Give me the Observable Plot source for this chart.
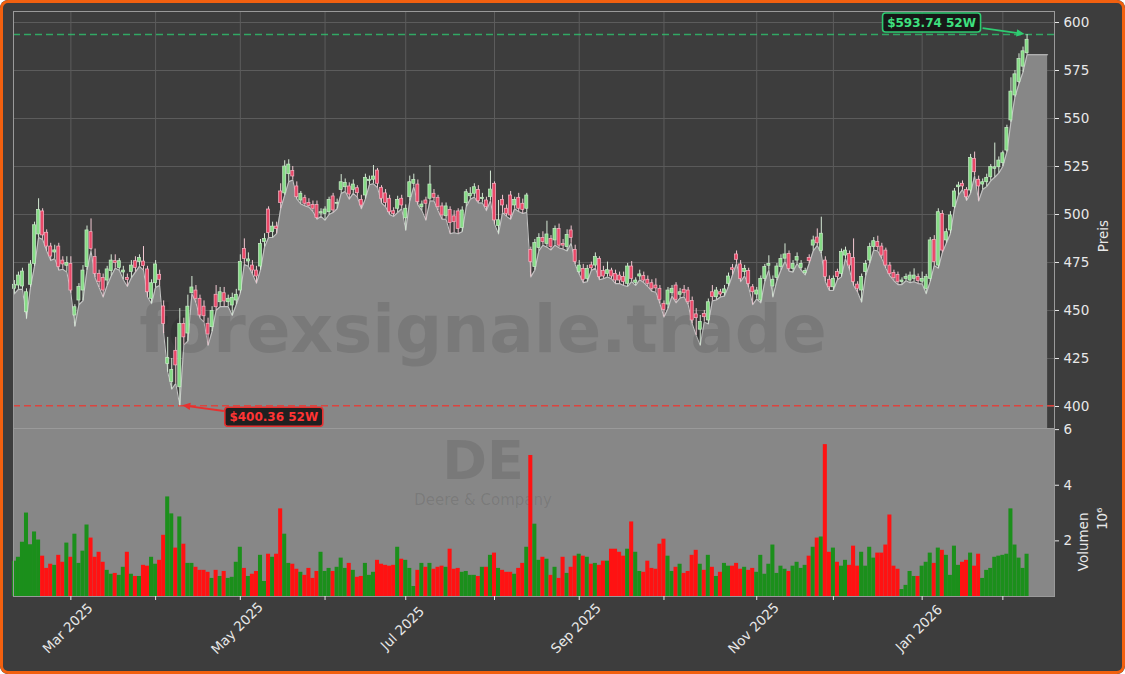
<!DOCTYPE html>
<html><head><meta charset="utf-8">
<script src="https://cdn.jsdelivr.net/npm/d3@7"></script>
<script src="https://cdn.jsdelivr.net/npm/@observablehq/plot@0.6"></script>
<style>
html,body{margin:0;padding:0;background:#ffffff;}
#wrap{position:relative;width:1125px;height:674px;background:#3d3d3d;overflow:hidden;border-radius:8px;font-family:"DejaVu Sans",sans-serif;}
#wrap svg{position:absolute;left:0;}
#border{position:absolute;left:0;top:0;width:1125px;height:674px;box-sizing:border-box;border:3px solid #f2600f;border-radius:8px;pointer-events:none;z-index:5;}
</style></head>
<body><div id="wrap"><div id="border"></div></div>
<script>
// ---------- DATA ----------
const startDate = "2025-02-10";
const endDate = "2026-02-10";
const holidays = ["2025-02-17","2025-04-18","2025-05-26","2025-06-19","2025-07-04","2025-09-01","2025-11-27","2025-12-25","2026-01-01","2026-01-19"];

const open = [461.3,463,462.5,449.1,463.4,474.3,489.6,501.6,490.5,483.3,480.2,483.3,476,473.3,474.3,447.4,455.2,460.4,472.6,490.8,
477.8,469.1,467,465.6,470.5,475.7,472.2,469.8,467,470,475.7,475.2,475.5,471.4,456.1,464.2,468.6,452.1,422.2,412.7,
429,410,443,438,459,460.4,456.1,452,443.1,441.3,458.2,454.3,459,454.3,452.6,455.2,460.4,482.1,475.5,473.4,
470.8,472.9,485.6,502.6,490.8,493.7,512,511,521,522.6,514.6,507.3,508.5,506,505,505,500.5,500.3,501.2,509.4,
505.6,512.8,514.2,514.6,512.8,513.7,507.6,509.9,517.4,518.1,522.9,513.9,511,508.2,501.7,503,508.2,498,509,516,
515.6,503.8,507.3,508.2,510.8,508.7,504.2,499.1,502.4,499,501.6,493,505.9,509.5,510.8,512.8,508,507.3,509,516,
494,507.6,503,509.9,504.7,508.7,505.6,503,481.6,472.6,482.6,487.8,484.7,487.3,486.5,492.5,484.7,483,491.7,481.6,
470,471.7,466.5,473.5,473.4,476.9,470.5,469,470.8,469.1,468.2,467.5,463.9,472.9,464.4,467.7,467.9,466,464.2,463,
461.3,453.5,453.1,459,463,458.2,460.8,460.4,454.9,448,440,448.2,444.8,459.5,456.9,459.5,459,463.9,472,479.2,
474,470,470.5,462.1,458.3,455.2,466.5,473.3,462.5,467,472.6,477,479.5,471.7,476,472.2,469.4,477.4,483.8,488,
481,476,466,462.1,470,469.1,478.6,479.5,477.4,463.5,460.4,470,476,483,485.6,483.3,481.2,473.4,469.6,468.5,
464.8,466.5,465.6,466.5,467.4,465,461.3,466.5,486.8,473.4,500.3,486.5,491.7,504,514.2,516,512.8,512.5,529,518.1,
515.6,516.8,519.4,523.8,524.6,526.7,533.3,549,562,569,577,584];
const high = [465.6,470,472,461.3,476,496,508.2,503,492,485,484,485,478,478,478,453,464,473.4,494,497.7,
482,471,469,473,479,479,477,473,469,476,478,479,483.3,473,466,476,471,455,436,425,
436,451,446,458,467.7,463,458,455,446,452,463,462,462,458,459,461,479,487.3,480,476,
473,487,490,504,496,496,516,528,528.5,525,517,512,510,508.2,507,507,503,504,509,511,
508,520.8,518.5,516.5,518,515,510,521,520,525.5,524,515,513,510,503.5,509.5,510,505,520,521,
518,507,509,525.5,513,510,506,506,504,502,503,504,513,514,516,515,511,509,522.6,517,
507.3,510,505,512,509,511,508,511,483,487,490,491,496.5,489,494,495,487,492,494,484,
476,474,473.5,475.2,480,478,473,475.2,472,471,470,470,474.5,475.5,467,471,470,468,466,466.5,
463,455,462,463,464.5,461.5,463,462,457,451,447.4,450,456,463,462,461,463,469.5,474,481,
476,473.5,472,463.5,462,468,474,478.5,468,474.5,479,484.7,481,476,480,476,472,479,488.7,492.5,
498.6,478,468,468,471.5,482,483,481,487.3,465,469,476,485,488,488.7,485,482.5,475,471,470,
467,469,470,471.7,469,470,468.8,488,489,503,502,492.5,501.5,513.5,516.8,517.5,514,531.3,532.5,520,
518.5,521,526,537.2,530,533,546.5,571.2,575,583.7,587.2,593.74];
const low = [458.7,461,461,445.7,462,473,488,487,481,476,477,471,471.5,470,459,441.7,453,455,471,481,
467,462,457,463,468,472,471,466,462.5,467,470,473,471,457,453.5,462,463,438,417.9,409,
412,400.36,432,434,458.7,454,446,444,431.8,439,450,452,452,452,447.4,453,459,474,473,469,
464.2,471,483,488,488,490,503,510,517,518,508,505.5,504.5,503.8,501.5,497.5,499,497,500,501,
503,511,512,508,511,509,503,508,515.5,516,514,506,504,500,499,501,503,491.7,507,514.5,
505,502,497,507,507,502,497.5,497.5,490,490.5,490,491,504,508,509,506,506,502,507,495,
489.9,501,499,497.5,503,501.5,500.5,501,467.5,471,481,484,483,481.5,484,482.6,482,481,485,474,
469,464.5,465,470.8,472,466,466.5,467.4,466.5,464,464,463,462.5,465,463,466,464.5,462.5,460,459.5,
453.5,446.5,451,457.5,454,456.5,457,453,443,437,431.8,444,443,455,455.5,457,457.5,462.5,468.5,474.5,
465,468,462,453,456,454,465,471,457,465.5,471,475.5,470.5,470,474.5,471,468.5,474.5,481,483.8,
479.5,465,460.4,460.5,466,467.5,477,471,463,459.5,454.3,468,474.5,481.5,481,477,472,468,465.5,463.5,
463.5,465.5,464.5,465,464,463.8,458.7,465,473.4,472,480,485,490,503,510,513,507.3,511,520,507,
513,514.5,517.5,519.4,521.5,525,532.5,548,561.1,568.1,574.1,583.2];
const close = [463.4,468.2,470.3,459.5,474,494.4,502.4,489.1,483.3,478.1,481.3,472.6,474,474.7,460.4,451.7,462.2,470.8,491.7,482.1,
469.1,464.8,460.4,471.4,476,474.7,475.7,470.8,465.9,473.4,472.2,477.3,473.1,459.5,464.2,474,466,443,425.2,419.1,
421.4,443,436,452,462,456.1,447.4,447,437.5,449.7,451.7,459.5,454.7,456.1,456.6,458.2,475.2,476.9,476.6,470.8,
467.7,484.7,487.3,490.3,493.7,492.4,506,525,526,519.8,509,510.8,505.6,504.5,503,498.1,501.2,502.6,507.6,502.1,
506,516.8,516.5,510.4,515.6,511.1,504.7,519.1,518.1,519.8,516,508.2,506,501.2,500.3,507.6,504.7,503,516.8,518,
506.4,505.2,505.6,515.6,508.7,503.8,499.5,504.2,495.5,496,492.5,502.1,511.6,510.8,514.2,506.9,508.7,503.8,513,496.9,
497,504.7,500.3,499.5,507.6,503,502.4,509.9,475.2,485.1,487.8,485.6,489.6,483,492.5,483.8,483.8,489.4,487.8,475.2,
473.4,466,471.7,472,477.8,467.4,467.7,471,467.7,465.6,465.6,464.8,472.9,466.5,465.6,468.8,465.6,463.9,461.3,461.5,
455.6,450.3,460.4,461.3,455.6,459.5,459,454.3,444.8,446,444,446.5,454.3,457,460.4,458.3,461,467.7,471.2,476.4,
466.5,471.7,463.9,459.5,460.4,466.5,472.6,474.3,466,472.9,476.9,479.2,471.7,474.3,477.8,474.3,470.5,475.7,486.5,485,
490,467.4,462.1,466.5,467.4,480.4,481.2,473.4,464.8,461.3,467.4,474.3,483,486.1,483,478.6,473.4,469.1,466.8,464.8,
465.6,467.4,468.2,468.2,465.3,466.5,467.4,486.5,475.2,501.2,481.2,490.8,499.5,512,515.1,514.6,509,529.5,522,514.6,
516.8,519.1,524.7,524.6,528.1,531.9,545.1,564,573,581,585,591];
// volume in millions
const volume = [1.27,1.41,1.95,3.0,1.86,2.32,2.03,1.45,1.01,1.16,1.12,1.48,1.23,1.92,1.41,2.24,1.19,1.63,2.57,2.1,
1.41,1.59,1.23,0.94,0.8,0.83,0.76,1.05,1.59,0.8,0.72,0.72,1.12,1.09,1.41,1.16,1.30,2.2,3.58,2.97,
1.74,2.86,1.88,1.19,1.19,1.05,0.94,0.94,0.87,0.65,0.94,0.72,0.9,0.65,0.69,1.23,1.77,1.01,0.72,0.8,
0.9,1.48,0.54,1.52,1.41,1.52,3.15,2.24,1.19,1.16,0.98,0.87,0.76,1.01,0.65,0.9,1.59,0.9,1.01,0.9,
1.05,1.38,1.01,1.19,0.94,0.69,0.72,1.19,0.76,0.87,1.30,1.16,1.12,1.09,1.12,1.77,1.34,1.30,1.01,0.36,
0.94,1.19,1.05,1.19,0.98,1.05,1.09,1.05,1.70,0.98,1.01,0.87,0.9,0.76,0.76,0.72,1.05,1.05,1.48,1.56,
1.01,0.94,0.87,0.87,0.8,1.01,1.19,1.77,5.07,2.6,1.3,1.41,1.34,0.76,1.05,0.65,1.41,0.83,1.05,1.45,
1.52,1.45,1.41,1.16,1.19,1.12,1.27,1.27,1.70,1.70,1.59,1.45,1.70,2.68,1.59,0.9,0.87,1.27,1.01,0.98,
1.88,2.06,1.45,0.9,1.05,1.16,0.83,0.9,1.48,1.66,1.16,0.94,1.48,1.05,0.72,0.87,1.19,1.09,1.09,1.19,
0.98,1.05,0.94,1.01,0.87,1.48,0.8,1.16,1.85,0.83,1.09,0.98,0.9,1.09,1.23,1.01,1.12,1.45,1.77,2.1,
2.14,5.46,1.59,1.74,1.23,1.09,1.30,1.12,1.81,1.09,1.59,1.09,1.77,1.38,1.56,1.56,1.85,2.93,1.09,0.98,
0.25,0.4,0.9,0.72,0.72,1.09,1.23,1.56,1.19,1.74,1.66,1.48,0.76,1.81,1.12,1.23,1.30,1.56,1.09,1.52,
0.65,0.94,1.01,1.41,1.45,1.48,1.52,3.15,1.85,1.38,1.01,1.52];
const priceTicks = [400,425,450,475,500,525,550,575,600];
const volumeTicks = [2,4,6];
const watermark = "forexsignale.trade";
const symbol = "DE";
const companyName = "Deere & Company";
const areaExtendIndex = 256.1;

// ---------- BUILD ----------
const dates = [];
for (let t = new Date(startDate + "T00:00:00Z"); t <= new Date(endDate + "T00:00:00Z"); t = new Date(t.getTime() + 864e5)) {
  const wd = t.getUTCDay(), s = t.toISOString().slice(0, 10);
  if (wd === 0 || wd === 6 || holidays.includes(s)) continue;
  dates.push(new Date(t));
}
const n = Math.min(dates.length, open.length, volume.length);
const rows = d3.range(n).map(i => ({i, date: dates[i], open: open[i], high: high[i], low: low[i], close: close[i], volume: volume[i], up: close[i] >= open[i]}));
const areaRows = rows.map(d => ({i: d.i, low: d.low})).concat([{i: areaExtendIndex, low: rows[n - 1].low}]);
const monthTicks = [];
rows.forEach((d, i) => { if (i > 0 && d.date.getUTCMonth() !== rows[i - 1].date.getUTCMonth()) monthTicks.push({i, date: d.date}); });
const labelTicks = monthTicks.filter(t => t.date.getUTCMonth() % 2 === 0).map(t => ({i: t.i, label: d3.utcFormat("%b %Y")(t.date)}));
const hiIdx = d3.maxIndex(rows, d => d.high), loIdx = d3.minIndex(rows, d => d.low);
const hi52 = rows[hiIdx].high, lo52 = rows[loIdx].low;

const xDomain = [-0.22, 257.8];
const font = "DejaVu Sans";
const axisColor = "#e8e8e8";
const green = "#2ecc71", red = "#e8302f";

function callout(idx, value, label, color, textColor, boxDx, boxDy, startDx, startDy, endDx) {
  return (index, scales) => {
    const px = scales.x(idx), py = scales.y(value);
    const g = d3.create("svg:g");
    const ex = px + endDx, ey = py, sx = px + startDx, sy = py + startDy;
    const ang = Math.atan2(ey - sy, ex - sx), L = 8, W = 3.6;
    g.append("line").attr("x1", sx).attr("y1", sy).attr("x2", ex - L * 0.7 * Math.cos(ang)).attr("y2", ey - L * 0.7 * Math.sin(ang))
      .attr("stroke", color).attr("stroke-width", 1.8);
    const bx = ex - L * Math.cos(ang), by = ey - L * Math.sin(ang);
    g.append("polygon").attr("points", [[ex, ey], [bx + W * Math.sin(ang), by - W * Math.cos(ang)], [bx - W * Math.sin(ang), by + W * Math.cos(ang)]].map(p => p.join(",")).join(" "))
      .attr("fill", color);
    const bw = 98, bh = 19;
    g.append("rect").attr("x", px + boxDx - bw / 2).attr("y", py + boxDy - bh / 2).attr("width", bw).attr("height", bh)
      .attr("rx", 3).attr("fill", "#121212").attr("fill-opacity", 0.88).attr("stroke", color).attr("stroke-width", 1.6);
    g.append("text").attr("x", px + boxDx).attr("y", py + boxDy).attr("text-anchor", "middle").attr("dominant-baseline", "central")
      .attr("font-family", font).attr("font-weight", "bold").attr("font-size", 12).attr("fill", textColor).text(label);
    return g.node();
  };
}

const price = Plot.plot({
  width: 1125, height: 430,
  marginLeft: 13, marginRight: 71, marginTop: 11, marginBottom: 2,
  style: {background: "transparent", color: axisColor, fontFamily: font, fontSize: "13.5px", overflow: "visible"},
  x: {domain: xDomain, axis: null, label: null},
  y: {domain: [388.54, 605.73], axis: null, label: null},
  marks: [
    Plot.gridY(priceTicks, {stroke: "#5c5c5c", strokeOpacity: 1}),
    Plot.gridX(monthTicks.map(t => t.i), {stroke: "#5c5c5c", strokeOpacity: 1}),
    Plot.areaY(areaRows, {x: "i", y: "low", fill: "#878787", clip: true}),
    Plot.lineY(areaRows, {x: "i", y: "low", stroke: "#c2c2c2", strokeWidth: 1.1}),
    Plot.text([watermark], {frameAnchor: "middle", dx: -51, dy: 132, lineAnchor: "bottom", fontSize: 66, fontWeight: "bold", fill: "#000", fillOpacity: 0.1}),
    Plot.ruleY([hi52], {stroke: green, strokeOpacity: 0.75, strokeDasharray: "7,4", strokeWidth: 1.5}),
    Plot.ruleY([lo52], {stroke: "#e0403a", strokeOpacity: 0.95, strokeDasharray: "7,4", strokeWidth: 1.5}),
    Plot.ruleX(rows, {x: "i", y1: "low", y2: "high", stroke: d => d.up ? "#d6ead6" : "#f2c8d2", strokeWidth: 1}),
    Plot.rect(rows, {x1: d => d.i - 0.38, x2: d => d.i + 0.38, y1: "open", y2: "close",
      fill: d => d.up ? "#86dc86" : "#ea4868", stroke: d => d.up ? "#c9ecc9" : "#f6b5c4", strokeWidth: 0.7}),
    Plot.frame({stroke: "#9a9a9a"}),
    Plot.axisY(priceTicks, {anchor: "right", tickSize: 4, tickPadding: 5, label: null, stroke: axisColor}),
    Plot.text(["Preis"], {frameAnchor: "right", dx: 49, rotate: -90, fontSize: 13.5, fill: axisColor}),
    callout(hiIdx, hi52, "$" + hi52.toFixed(2) + " 52W", green, "#3ee07f", -95, -11.5, -44, -6, -2),
    callout(loIdx, lo52, "$" + lo52.toFixed(2) + " 52W", red, "#ff3434", 94.5, 11.4, 44.5, 5.7, 3)
  ]
});
price.style.top = "0px";
document.getElementById("wrap").appendChild(price);

const vol = Plot.plot({
  width: 1125, height: 246,
  marginLeft: 13, marginRight: 71, marginTop: 0, marginBottom: 78,
  style: {background: "transparent", color: axisColor, fontFamily: font, fontSize: "13.5px", overflow: "visible"},
  x: {domain: xDomain, axis: null, label: null},
  y: {domain: [0, 6.04], axis: null, label: null},
  marks: [
    Plot.frame({fill: "#878787", stroke: null}),
    Plot.text([symbol], {frameAnchor: "top", dx: -51, dy: 50, lineAnchor: "bottom", fontSize: 54, fontWeight: "bold", fill: "#000", fillOpacity: 0.1}),
    Plot.text([companyName], {frameAnchor: "top", dx: -51, dy: 76, lineAnchor: "bottom", fontSize: 15, fill: "#000", fillOpacity: 0.1}),
    Plot.rectY(rows, {x1: d => d.i - 0.5, x2: d => d.i + 0.5, y: "volume", fill: d => d.up ? "#1b8f1b" : "#ff1212"}),
    Plot.frame({stroke: "#9a9a9a"}),
    Plot.axisY(volumeTicks, {anchor: "right", tickSize: 4, tickPadding: 5, label: null, stroke: axisColor}),
    Plot.axisX(monthTicks.map(t => t.i), {anchor: "bottom", tickSize: 4, tickFormat: () => "", label: null, stroke: axisColor}),
    Plot.text(labelTicks, {x: "i", text: "label", frameAnchor: "bottom", dy: 35, rotate: -45, textAnchor: "middle", fontSize: 13.5, fill: axisColor}),
    Plot.text(["Volumen"], {frameAnchor: "right", dx: 29, rotate: -90, fontSize: 13.5, fill: axisColor}),
    Plot.text(["10⁶"], {frameAnchor: "right", dx: 48, dy: -5, rotate: -90, fontSize: 13.5, fill: axisColor})
  ]
});
vol.style.top = "428px";
document.getElementById("wrap").appendChild(vol);
</script>
</body></html>
